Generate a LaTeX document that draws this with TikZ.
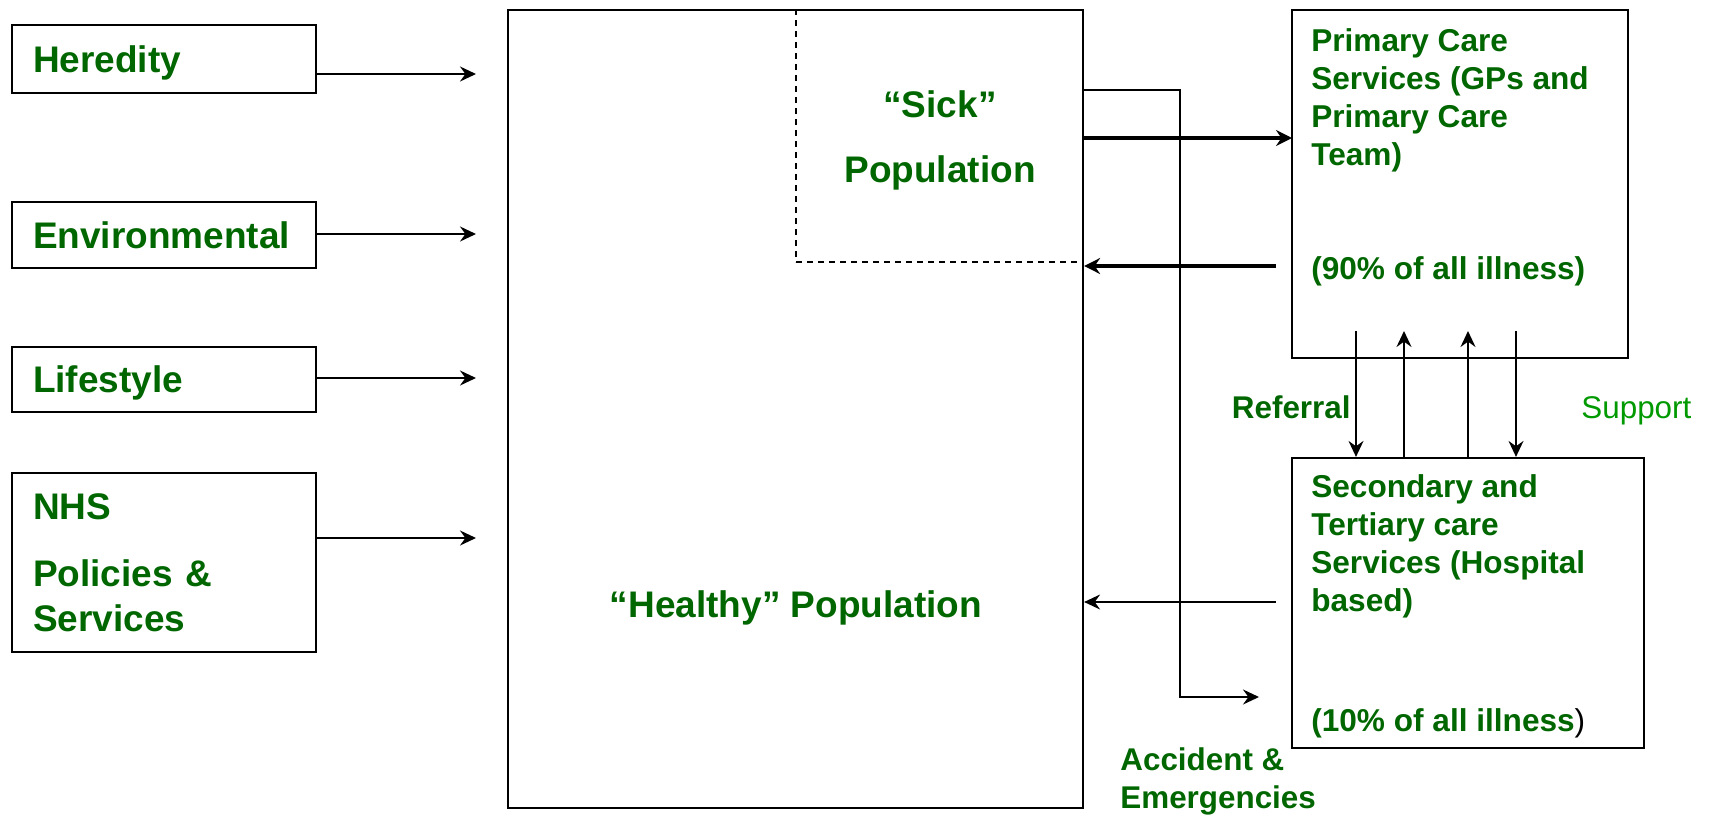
\documentclass[tikz,border=0pt]{standalone}
\usepackage{fontspec}
\setmainfont{Liberation Sans}
\usepackage{xcolor}
\usetikzlibrary{positioning,arrows.meta}

\definecolor{nhsgreen}{RGB}{0,102,0}
\definecolor{supportgreen}{RGB}{0,153,0}

\tikzset{
    factor/.style={draw, line width=1.1pt, minimum width=152pt, minimum height=33pt,
        text width=131pt, align=left, inner xsep=10.5pt, text=nhsgreen,
        font=\fontsize{18.5}{22.5}\selectfont\bfseries},
    carebox/.style={draw, line width=1.1pt},
    poptext/.style={inner sep=0pt, align=left, text=nhsgreen,
        font=\fontsize{18.5}{19}\selectfont\bfseries},
    caretext/.style={inner sep=0pt, align=left, text=nhsgreen,
        font=\fontsize{15.8}{19}\selectfont\bfseries},
    smalllabel/.style={inner sep=0pt, align=left, text=nhsgreen,
        font=\fontsize{15.7}{19}\selectfont\bfseries},
    thinarrow/.style={line width=0.9pt, -{Stealth[length=8pt,width=7.5pt,inset=2.7pt]}},
    thickarrow/.style={line width=2.2pt, -{Stealth[length=8pt,width=8pt,inset=2.7pt]}},
}

\begin{document}
\begin{tikzpicture}[x=0.5pt, y=-0.5pt]
        \useasboundingbox (0,0) rectangle (1709,815);
        % Determinants of health
        \node[factor, minimum height=34pt, text depth=0pt] (hered) at (164,59) {Heredity};
        \node[factor] (envir) at (164,235) {Environmental};
        \node[factor, minimum height=32.5pt, text depth=0pt] (life) at (164,379.5) {Lifestyle};
        \node[factor, minimum height=89.5pt] (nhs) at (164,562.5) {NHS\\[11pt]Policies \&\\Services};
        % Population, sick part dashed
        \node[carebox, minimum width=287.5pt, minimum height=399pt] (healthy) at (795.5,409) {};
        \node[carebox, dash pattern=on 3pt off 2.5pt, minimum width=143.5pt, minimum height=126pt] (sick) at (939.5,136) {};
        \node[poptext, align=center, anchor=north] (sicktxt) at (940,90) {“Sick”\\[13.5pt]Population};
        \node[poptext, anchor=base] (healthytxt) at (796,617) {“Healthy” Population};
        % Care services
        \node[carebox, minimum width=168pt, minimum height=174pt] (prim) at (1460,184) {};
        \node[caretext, below right=9.7pt and 10pt of prim.north west] (primtxt)
            {Primary Care\\Services (GPs and\\Primary Care\\Team)\\[38pt](90\% of all illness)};
        \node[carebox, minimum width=176pt, minimum height=145pt] (sec) at (1468,603) {};
        \node[caretext, below right=8.7pt and 10pt of sec.north west] (sectxt)
            {Secondary and\\Tertiary care\\Services (Hospital\\based)\\[41pt](10\% of all illness{\color{black}\mdseries)}};
        % Labels
        \node[smalllabel, anchor=base east] (referral) at (1351,418) {Referral};
        \node[smalllabel, anchor=base west, text=supportgreen, font=\fontsize{15.7}{19}\selectfont] (support) at (1581,418) {Support};
        \node[smalllabel, anchor=north west] (aande) at (1120,747) {Accident \&\\Emergencies};
        % Arrows into the population
        \coordinate (inH) at (476,74);
        \coordinate (inE) at (476,234);
        \coordinate (inL) at (476,378);
        \coordinate (inN) at (476,538);
        \draw[thinarrow] (hered.east |- inH) -- (inH);
        \draw[thinarrow] (envir.east |- inE) -- (inE);
        \draw[thinarrow] (life.east |- inL) -- (inL);
        \draw[thinarrow] (nhs.east |- inN) -- (inN);
        % Sick population <-> primary care
        \coordinate (toprim) at (1292,138);
        \coordinate (fromprim) at (1276,266);
        \draw[thickarrow] (healthy.east |- toprim) -- (toprim);
        \draw[thickarrow] (fromprim) -- (healthy.east |- fromprim);
        % Hospital back to population
        \coordinate (fromsec) at (1276,602);
        \draw[thinarrow] (fromsec) -- (healthy.east |- fromsec);
        % Accident & emergencies route
        \coordinate (aebend) at (1180,90);
        \coordinate (aeend) at (1259,697);
        \draw[thinarrow] (healthy.east |- aebend) -- (aebend) |- (aeend);
        % Referral and support
        \draw[thinarrow] (1356,331) -- (1356,331 |- sec.north);
        \draw[thinarrow] (1404,331 |- sec.north) -- (1404,331);
        \draw[thinarrow] (1468,331 |- sec.north) -- (1468,331);
        \draw[thinarrow] (1516,331) -- (1516,331 |- sec.north);
    \end{tikzpicture}
\end{document}
